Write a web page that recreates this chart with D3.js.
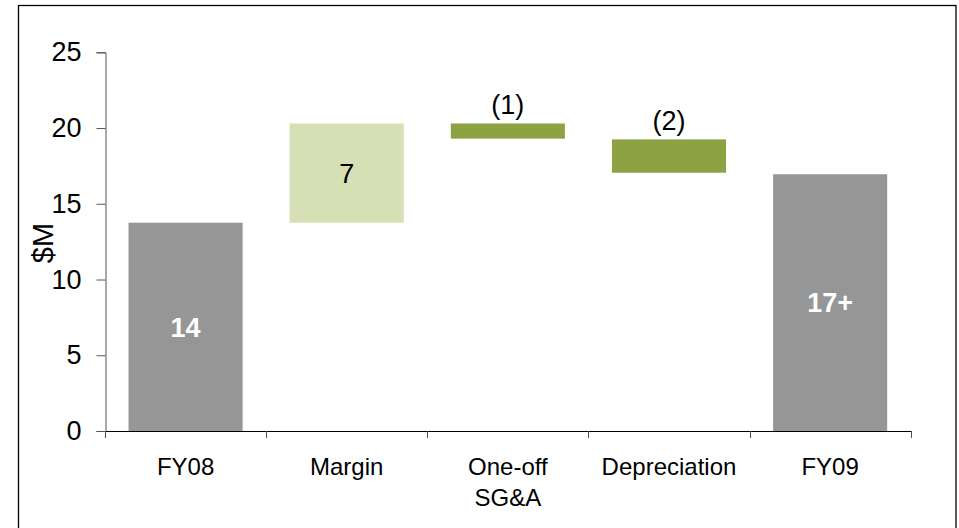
<!DOCTYPE html>
<html>
<head>
<meta charset="utf-8">
<script src="https://cdn.jsdelivr.net/npm/d3@7"></script>
<style>
  html, body { margin: 0; padding: 0; background: #fff; }
  svg { display: block; font-family: "Liberation Sans", Arial, sans-serif; }
</style>
</head>
<body>
<svg id="chart" width="959" height="528"></svg>
<script>
// ---- data ----
const categories = ["FY08", "Margin", "One-off\nSG&A", "Depreciation", "FY09"];
const barLow  = [0,    13.75, 19.3,  17.05, 0];
const barHigh = [13.75, 20.3, 20.3,  19.25, 16.95];
const barKind = ["total", "up", "down", "down", "total"];
const barLabels = ["14", "7", "(1)", "(2)", "17+"];
const yTicks = [0, 5, 10, 15, 20, 25];
const yAxisTitle = "$M";

// ---- styles ----
const colors = { total: "#969696", up: "#d7e0b5", down: "#8da242" };

const svg = d3.select("#chart");

// frame
svg.append("rect")
  .attr("x", 18.5).attr("y", 5.5)
  .attr("width", 937.5).attr("height", 600)
  .attr("fill", "none").attr("stroke", "#000").attr("stroke-width", 1.3);

const y = d3.scaleLinear().domain([0, 25]).range([431, 52.3]);
const x = d3.scaleBand().domain(categories).range([105, 910.7]).padding(0);
const barW = x.bandwidth() * 0.708;
const barOff = (x.bandwidth() - barW) / 2;

// y axis
const yAxis = svg.append("g")
  .attr("transform", "translate(105.5,0)")
  .call(d3.axisLeft(y).tickValues(yTicks).tickSize(9).tickPadding(15));
yAxis.select(".domain").attr("stroke", "#555");
yAxis.selectAll(".tick line").attr("stroke", "#555");
yAxis.selectAll(".tick text")
  .attr("font-size", 27).attr("fill", "#000")
  .attr("font-family", "Liberation Sans, Arial, sans-serif");

// bars
const idx = d3.range(categories.length);
svg.append("g").selectAll("rect")
  .data(idx).join("rect")
  .attr("x", i => x(categories[i]) + barOff)
  .attr("width", barW)
  .attr("y", i => y(barHigh[i]))
  .attr("height", i => y(barLow[i]) - y(barHigh[i]))
  .attr("fill", i => colors[barKind[i]]);

// x axis
svg.append("line")
  .attr("x1", 105).attr("x2", 911)
  .attr("y1", 431.5).attr("y2", 431.5)
  .attr("stroke", "#000").attr("stroke-width", 1.2);
const bounds = categories.map(c => x(c)).concat([x.range()[1]]);
svg.append("g").selectAll("line")
  .data(bounds).join("line")
  .attr("x1", d => Math.round(d) + 0.5).attr("x2", d => Math.round(d) + 0.5)
  .attr("y1", 431).attr("y2", 438)
  .attr("stroke", "#555");

// category labels
svg.append("g").selectAll("text")
  .data(categories).join("text")
  .attr("x", c => x(c) + x.bandwidth() / 2)
  .attr("y", 475)
  .attr("text-anchor", "middle")
  .attr("font-size", 24)
  .attr("fill", "#000")
  .each(function (c) {
    const lines = c.split("\n");
    d3.select(this).selectAll("tspan")
      .data(lines).join("tspan")
      .attr("x", x(c) + x.bandwidth() / 2)
      .attr("dy", (d, j) => j === 0 ? 0 : 31)
      .text(d => d);
  });

// value labels
svg.append("g").selectAll("text")
  .data(idx).join("text")
  .attr("x", i => x(categories[i]) + x.bandwidth() / 2)
  .attr("y", i => barKind[i] === "down"
      ? y(barHigh[i]) - 9
      : (y(barLow[i]) + y(barHigh[i])) / 2)
  .attr("dy", i => barKind[i] === "down" ? 0 : "0.36em")
  .attr("text-anchor", "middle")
  .attr("font-size", i => barKind[i] === "total" ? 27 : 27)
  .attr("font-weight", i => barKind[i] === "total" ? "bold" : "normal")
  .attr("fill", i => barKind[i] === "total" ? "#fff" : "#000")
  .text(i => barLabels[i]);

// y axis title
svg.append("text")
  .attr("transform", "translate(53,243) rotate(-90)")
  .attr("text-anchor", "middle")
  .attr("font-size", 29)
  .attr("fill", "#000")
  .text(yAxisTitle);
</script>
</body>
</html>
